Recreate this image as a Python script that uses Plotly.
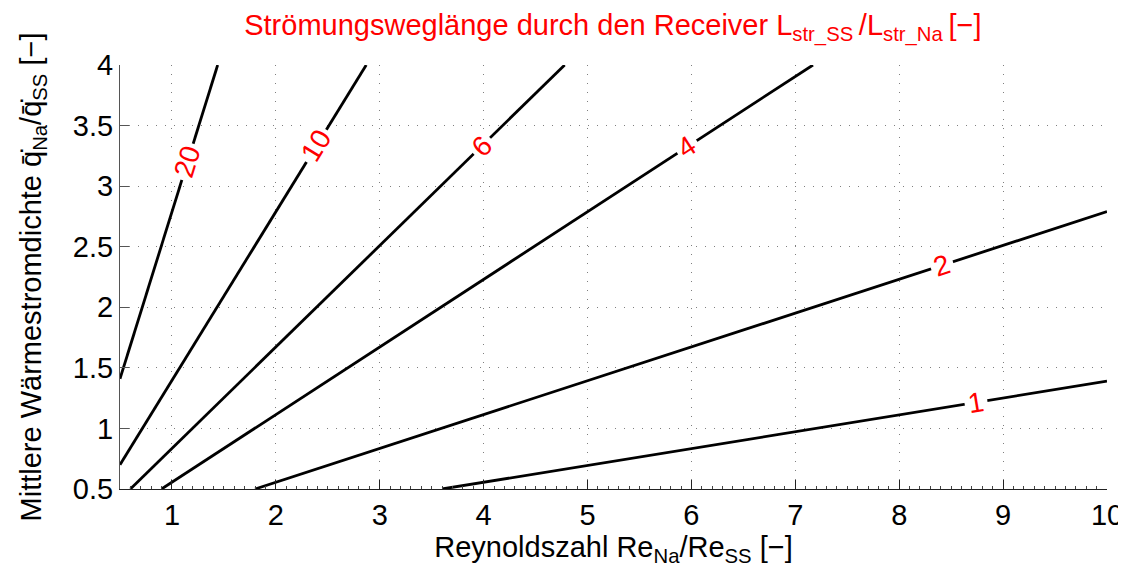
import math

import numpy as np
import plotly.graph_objects as go

# Höhenlinien L_str_SS / L_str_Na (Endpunkte)
levels = [1, 2, 4, 6, 10, 20]
re_start = [3.6, 1.8, 0.9, 0.6, 0.5, 0.5]
q_start = [0.5, 0.5, 0.5, 0.5, 0.70, 1.41]
re_end = [10.0, 10.0, 7.17, 4.78, 2.87, 1.44]
q_end = [1.39, 2.79, 4.0, 4.0, 4.0, 4.0]
label_re = [8.74, 8.41, 5.96, 3.98, 2.39, 1.15]

x_ticks = [1, 2, 3, 4, 5, 6, 7, 8, 9, 10]
y_ticks = [0.5, 1, 1.5, 2, 2.5, 3, 3.5, 4]
y_tick_text = ['0.5', '1', '1.5', '2', '2.5', '3', '3.5', '4']

# die Seite hat 8px Rand, daher etwas kleiner als das Fenster
W, H = 1118, 561
M = dict(l=112, r=19, t=57, b=80)
x_range = [0.5, 10]
y_range = [0.5, 4]
FONT = 'Liberation Sans, Arial, sans-serif'

# Pixel pro Einheit, um die Beschriftung parallel zur Linie zu drehen
px_x = (W - M['l'] - M['r']) / (x_range[1] - x_range[0])
px_y = (H - M['t'] - M['b']) / (y_range[1] - y_range[0])

fig = go.Figure()

for lev, x0, y0, x1, y1, lx in zip(levels, re_start, q_start, re_end, q_end, label_re):
    fig.add_trace(go.Scatter(
        x=[x0, x1],
        y=[y0, y1],
        mode='lines',
        line=dict(color='black', width=2.8),
        showlegend=False,
        hoverinfo='skip'
    ))
    ly = float(np.interp(lx, [x0, x1], [y0, y1]))
    angle = math.degrees(math.atan2((y1 - y0) * px_y, (x1 - x0) * px_x))
    fig.add_annotation(
        x=lx, y=ly, text=str(lev),
        showarrow=False,
        textangle=-angle,
        font=dict(color='red', size=28, family=FONT),
        bgcolor='white',
        borderpad=3
    )

axis_font = dict(size=29, color='black', family=FONT)

fig.update_layout(
    width=W, height=H,
    margin=M,
    template='simple_white',
    plot_bgcolor='white',
    paper_bgcolor='white',
    showlegend=False,
    font=dict(family=FONT, color='black', size=29),
    title=dict(
        text='Strömungsweglänge durch den Receiver L<sub>str_SS </sub>/L<sub>str_Na </sub>[−]',
        x=0.541, xanchor='center',
        y=0.97, yanchor='middle', yref='container',
        font=dict(size=29, color='red', family=FONT)
    )
)

fig.update_xaxes(
    range=x_range,
    tickvals=x_ticks,
    ticks='inside', ticklen=9, tickwidth=1.2, tickcolor='#222',
    showline=True, linecolor='#222', linewidth=1.2, mirror=False,
    showgrid=True, gridcolor='#7f7f7f', gridwidth=1, griddash='1px,8px',
    zeroline=False, automargin=False,
    tickfont=axis_font,
    minor=dict(ticks='inside', dtick=0.1, ticklen=3, tickcolor='#444', showgrid=False),
    title=dict(text='Reynoldszahl Re<sub>Na</sub>/Re<sub>SS</sub> [−]',
               font=dict(size=29, color='black', family=FONT), standoff=2)
)

fig.update_yaxes(
    range=y_range,
    tickvals=y_ticks,
    ticktext=y_tick_text,
    ticks='inside', ticklen=9, tickwidth=1.2, tickcolor='#555',
    showline=True, linecolor='#555', linewidth=1.2, mirror=False,
    showgrid=True, gridcolor='#7f7f7f', gridwidth=1, griddash='1px,8px',
    zeroline=False, automargin=False,
    tickfont=axis_font,
    title=dict(text='Mittlere Wärmestromdichte q̄̇<sub>Na</sub>/q̄̇<sub>SS</sub> [−]',
               font=dict(size=29, color='black', family=FONT), standoff=22)
)

fig.write_html('out.html')
